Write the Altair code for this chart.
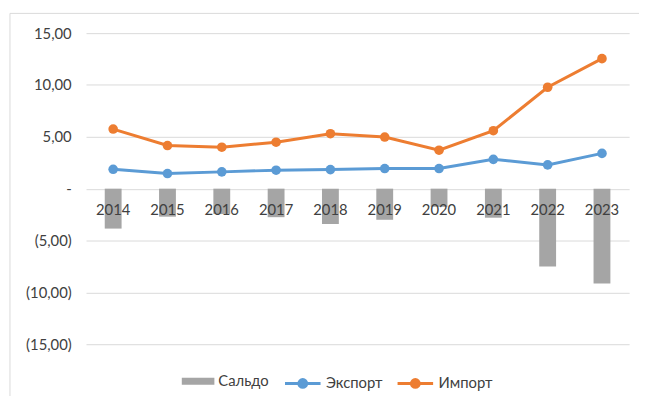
import altair as alt
import pandas as pd

years = ["2014", "2015", "2016", "2017", "2018", "2019", "2020", "2021", "2022", "2023"]
export = [1.87, 1.46, 1.62, 1.78, 1.84, 1.94, 1.94, 2.83, 2.29, 3.40]
imports = [5.75, 4.16, 4.00, 4.48, 5.30, 4.98, 3.71, 5.59, 9.78, 12.54]
saldo = [-3.85, -2.70, -2.45, -2.75, -3.40, -3.00, -1.75, -2.80, -7.50, -9.15]
series_names = ["Сальдо", "Экспорт", "Импорт"]
y_ticks = [-15, -10, -5, 0, 5, 10, 15]

FONT = "Lato"
TXT = "#404040"
FS = 15

bars_df = pd.DataFrame({"year": years, "value": saldo, "s": series_names[0]})
lines_df = pd.DataFrame({
    "year": years * 2,
    "value": export + imports,
    "s": [series_names[1]] * len(years) + [series_names[2]] * len(years),
})

x_enc = alt.X("year:N", sort=years, title=None,
              scale=alt.Scale(paddingInner=0.69, paddingOuter=0.345),
              axis=alt.Axis(orient="bottom", offset=-157, domain=False, ticks=False, tickSize=0,
                            labelPadding=14, labelAngle=0, labelFont=FONT, labelFontSize=FS,
                            labelColor=TXT, grid=False, zindex=1))

label_expr = ("datum.value == 0 ? '-\u00a0\u00a0\u00a0\u00a0' : (datum.value < 0 ? '(' + replace(format(-datum.value, '.2f'), '.', ',') + ')' "
              ": replace(format(datum.value, '.2f'), '.', ',') + '\u00a0\u00a0')")

y_scale = alt.Scale(domain=[-15, 15], nice=False, zero=False)
y_enc = alt.Y("value:Q", scale=y_scale, title=None,
              axis=alt.Axis(values=y_ticks, domain=False, ticks=False, labelPadding=15,
                            labelExpr=label_expr, labelFont=FONT, labelFontSize=FS,
                            labelColor=TXT, grid=True, gridColor="#d9d9d9", gridWidth=1, zindex=0))

bar_sym = "M-1,-0.21H1V0.21H-1Z"
line_sym = ("M-1,0H1 "
            "M0.22,0A0.22,0.22 0 1 1 -0.22,0A0.22,0.22 0 1 1 0.22,0 "
            "M0.14,0A0.14,0.14 0 1 1 -0.14,0A0.14,0.14 0 1 1 0.14,0 "
            "M0.06,0A0.06,0.06 0 1 1 -0.06,0A0.06,0.06 0 1 1 0.06,0")

border = alt.Chart(alt.Data(values=[{"a": 1}])).mark_rect(
    fill=None, stroke="#d9d9d9", strokeWidth=1
).encode(x=alt.value(-77), x2=alt.value(640), y=alt.value(-20), y2=alt.value(420))

bars = alt.Chart(bars_df).mark_bar().encode(
    x=x_enc,
    y=y_enc,
    fill=alt.Fill("s:N", scale=alt.Scale(domain=[series_names[0]], range=["#A5A5A5"]),
                  legend=alt.Legend(title=None, orient="none", legendX=97, legendY=336,
                                    symbolType=bar_sym, symbolSize=1089, symbolStrokeWidth=0,
                                    labelFont=FONT, labelFontSize=FS, labelColor=TXT,
                                    padding=0, labelOffset=4)),
)

color_scale = alt.Scale(domain=series_names[1:], range=["#5B9BD5", "#ED7D31"])

lines = alt.Chart(lines_df).mark_line(strokeWidth=3).encode(
    x=alt.X("year:N", sort=years),
    y=alt.Y("value:Q"),
    color=alt.Color("s:N", scale=color_scale,
                    legend=alt.Legend(title=None, orient="none", legendX=200, legendY=335,
                                      direction="horizontal", symbolType=line_sym,
                                      symbolSize=1296, symbolStrokeWidth=3, symbolOpacity=1,
                                      labelFont=FONT, labelFontSize=FS, labelColor=TXT,
                                      padding=0, labelOffset=4, columnPadding=8)),
)

points = alt.Chart(lines_df).mark_circle(size=95, opacity=1).encode(
    x=alt.X("year:N", sort=years),
    y=alt.Y("value:Q"),
    color=alt.Color("s:N", scale=color_scale, legend=None),
)

chart = alt.layer(border, bars, lines, points).resolve_scale(
    color="independent", fill="independent"
).properties(
    width=550, height=315,
    autosize=alt.AutoSizeParams(type="none"),
    padding={"left": 79, "top": 23, "right": 10, "bottom": 50},
    background="white",
).configure_view(stroke=None)

chart.save("out.html", embed_options={"renderer": "svg", "actions": False})
